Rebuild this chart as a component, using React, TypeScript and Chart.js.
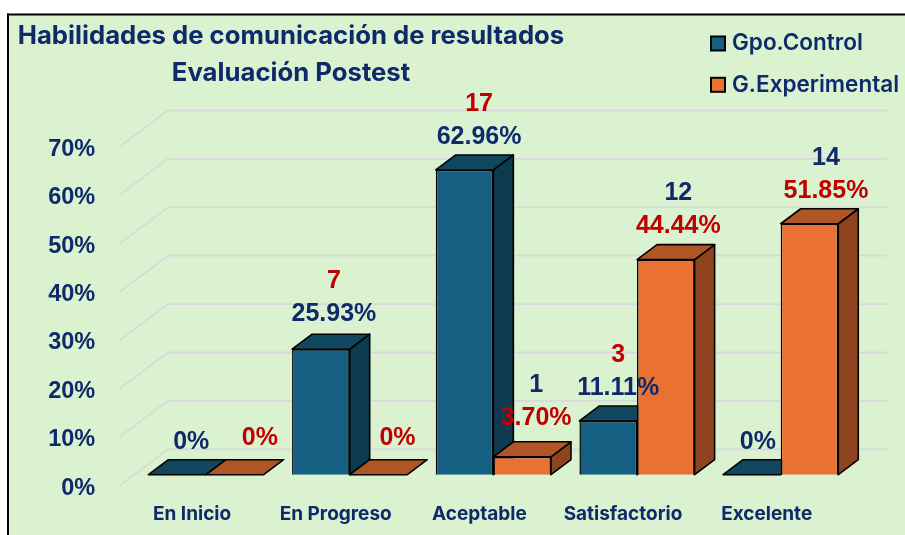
import React, { useEffect, useRef } from "react";
import { Chart, registerables } from "chart.js";

Chart.register(...registerables);

const categories = ["En Inicio", "En Progreso", "Aceptable", "Satisfactorio", "Excelente"];
const seriesNames = ["Gpo.Control", "G.Experimental"];
const titleLines = ["Habilidades de comunicación de resultados", "Evaluación Postest"];
const controlPct = [0, 25.93, 62.96, 11.11, 0];
const experimentalPct = [0, 0, 3.7, 44.44, 51.85];
const controlCounts = [0, 7, 17, 3, 0];
const experimentalCounts = [0, 0, 1, 12, 14];

const NAVY = "#0E2A6B";
const RED = "#C00000";
const FONT = "Inter";
const NUM_FONT = "'Liberation Sans'";
const DEPTH_X = 20;
const DEPTH_Y = 15;

const faces = [
  { front: "#156082", top: "#10475F", side: "#0D3A4E" },
  { front: "#E97132", top: "#AF5526", side: "#8E451F" },
];

// label nudges relative to each bar's front top corner centre: [dx, dy]
const labelNudges = [
  [[14, -33], [13, -35], [14.5, -33], [10, -33], [6, -33]],
  [[25, -37], [19, -37], [14, -39], [12.5, -34], [16.5, -32.5]],
];

const fmtPct = (v: number) => (v === 0 ? "0%" : v.toFixed(2) + "%");

const scene = {
  id: "scene",
  beforeDraw(chart: any) {
    const { ctx, width, height } = chart;
    ctx.save();
    ctx.fillStyle = "#FFFFFF";
    ctx.fillRect(0, 0, width, height);
    ctx.fillStyle = "#DAF2D0";
    ctx.fillRect(8, 14, width - 8, height - 14);
    ctx.fillStyle = "#000000";
    ctx.fillRect(7, 13.5, width - 7, 2);
    ctx.fillRect(7, 13.5, 2, height - 13.5);
    ctx.restore();
  },
  afterLayout(chart: any) {
    const t = chart.titleBlock;
    t.left = 0;
    t.right = 582;
  },
  beforeDatasetsDraw(chart: any) {
    const { ctx } = chart;
    const y = chart.scales.y;
    ctx.save();
    ctx.strokeStyle = "#D9D9D9";
    ctx.lineWidth = 1.8;
    y.ticks.forEach((t: any) => {
      const py = y.getPixelForValue(t.value);
      ctx.beginPath();
      ctx.moveTo(119, py + 11.3);
      ctx.lineTo(168, py - 25.4);
      ctx.lineTo(887, py - 25.4);
      ctx.stroke();
    });
    ctx.restore();

    // paint the bars series by series, left bar first, so each bar's faces
    // overlap its left neighbour the way a 3D column chart does
    chart.data.datasets.forEach((_: any, index: number) => {
      const f = faces[index];
      chart.getDatasetMeta(index).data.forEach((el: any) => {
        const l = el.x - el.width / 2;
        const r = el.x + el.width / 2;
        const top = el.y;
        const base = el.base;
        const poly = (pts: number[][], color: string) => {
          ctx.beginPath();
          pts.forEach((p, i) => (i ? ctx.lineTo(p[0], p[1]) : ctx.moveTo(p[0], p[1])));
          ctx.closePath();
          ctx.fillStyle = color;
          ctx.fill();
          ctx.stroke();
        };
        ctx.save();
        ctx.strokeStyle = "#000000";
        ctx.lineWidth = 1.6;
        ctx.lineJoin = "round";
        if (base - top > 0.5) {
          poly([[r, top], [r + DEPTH_X, top - DEPTH_Y], [r + DEPTH_X, base - DEPTH_Y], [r, base]], f.side);
        }
        poly([[l, top], [l + DEPTH_X, top - DEPTH_Y], [r + DEPTH_X, top - DEPTH_Y], [r, top]], f.top);
        ctx.restore();
        el.draw(ctx);
      });
    });
  },
  beforeDatasetDraw() {
    return false;
  },
  afterDatasetsDraw(chart: any) {
    const { ctx } = chart;
    ctx.save();
    ctx.textAlign = "center";
    ctx.textBaseline = "middle";
    ctx.font = `700 25px ${NUM_FONT}`;
    const sets = [
      { pct: controlPct, counts: controlCounts, pctColor: NAVY, countColor: RED },
      { pct: experimentalPct, counts: experimentalCounts, pctColor: RED, countColor: NAVY },
    ];
    sets.forEach((s, ds) => {
      const meta = chart.getDatasetMeta(ds);
      s.pct.forEach((v, i) => {
        const el = meta.data[i];
        const [dx, dy] = labelNudges[ds][i];
        const x = el.x + dx;
        const y = el.y + dy;
        ctx.fillStyle = s.pctColor;
        ctx.fillText(fmtPct(v), x, y);
        if (s.counts[i] > 0) {
          ctx.fillStyle = s.countColor;
          ctx.fillText(String(s.counts[i]), x, y - 33);
        }
      });
    });
    // legend
    ctx.textAlign = "left";
    ctx.font = `600 22.5px ${FONT}`;
    seriesNames.forEach((name, i) => {
      const y = 36.5 + i * 41.3;
      ctx.fillStyle = faces[i].front;
      ctx.strokeStyle = "#000";
      ctx.lineWidth = 2;
      ctx.fillRect(711, y, 14, 14);
      ctx.strokeRect(711, y, 14, 14);
      ctx.fillStyle = NAVY;
      ctx.fillText(name, 732, y + 7);
    });
    ctx.restore();
  },
};

export default function App() {
  const ref = useRef<HTMLCanvasElement | null>(null);
  useEffect(() => {
    const chart = new Chart(ref.current as HTMLCanvasElement, {
      type: "bar",
      data: {
        labels: categories,
        datasets: [
          { label: seriesNames[0], data: controlPct, backgroundColor: faces[0].front, borderColor: "#000", borderWidth: 1.5, categoryPercentage: 0.802, barPercentage: 1 },
          { label: seriesNames[1], data: experimentalPct, backgroundColor: faces[1].front, borderColor: "#000", borderWidth: 1.5, categoryPercentage: 0.802, barPercentage: 1 },
        ],
      },
      options: {
        responsive: false,
        animation: false,
        layout: { padding: { left: 0, right: 52.5, top: 0, bottom: 0 } },
        plugins: {
          tooltip: { enabled: false },
          title: {
            display: true,
            text: titleLines,
            color: NAVY,
            font: { family: FONT, size: 25.7, weight: "700", lineHeight: 37 / 25.7 },
            padding: { top: 17.5, bottom: 44.4 },
          },
          legend: { display: false },
        },
        scales: {
          x: {
            grid: { display: false },
            border: { display: false },
            afterFit: (s: any) => { s.height = 60.3; },
            ticks: {
              color: NAVY,
              font: { family: FONT, size: 19, weight: "700" },
              maxRotation: 0,
              autoSkip: false,
              padding: 20,
              labelOffset: -14,
            },
          },
          y: {
            min: 0,
            max: 70,
            grid: { display: false },
            border: { display: false },
            afterFit: (s: any) => { s.width = 134.2; },
            ticks: {
              stepSize: 10,
              color: NAVY,
              font: { family: NUM_FONT, size: 23.5, weight: "700" },
              padding: 31,
              labelOffset: 13.5,
              callback: (v: any) => v + "%",
            },
          },
        },
      },
      plugins: [scene],
    } as any);
    return () => chart.destroy();
  }, []);
  return <canvas ref={ref} width={905} height={535} style={{ position: "fixed", left: 0, top: 0, display: "block" }} />;
}
